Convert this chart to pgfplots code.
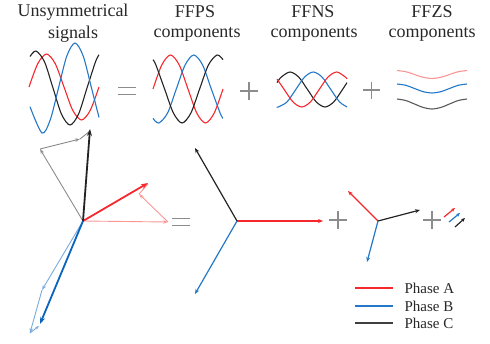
\documentclass[border=0pt]{standalone}
\usepackage{pgfplots}
\pgfplotsset{compat=1.18}
\usepackage{fontspec}
\setmainfont{Liberation Serif}
\usetikzlibrary{arrows.meta}
\definecolor{pA}{RGB}{245,40,45}
\definecolor{pB}{RGB}{35,120,200}
\definecolor{pC}{RGB}{35,35,35}
\definecolor{lA}{RGB}{250,150,150}
\definecolor{lB}{RGB}{120,170,222}
\definecolor{lC}{RGB}{140,140,140}
\definecolor{dB}{RGB}{10,100,190}
\definecolor{txt}{RGB}{40,40,40}
\begin{document}
\begin{tikzpicture}
\begin{axis}[width=490pt,height=343pt,scale only axis,
  xmin=0,xmax=490,ymin=0,ymax=343,y dir=reverse,hide axis,clip=false]
% ---------- titles
\node[font=\fontsize{18}{20}\selectfont,text=txt] at (73,12) {Unsymmetrical};
\node[font=\fontsize{18}{20}\selectfont,text=txt] at (73,34) {signals};
\node[font=\fontsize{18}{20}\selectfont,text=txt] at (195,12) {FFPS};
\node[font=\fontsize{18}{20}\selectfont,text=txt] at (197,34) {components};
\node[font=\fontsize{18}{20}\selectfont,text=txt] at (313,12) {FFNS};
\node[font=\fontsize{18}{20}\selectfont,text=txt] at (314,34) {components};
\node[font=\fontsize{18}{20}\selectfont,text=txt] at (432,12) {FFZS};
\node[font=\fontsize{18}{20}\selectfont,text=txt] at (432,34) {components};
% ---------- unsymmetrical waveforms
\addplot[smooth,pA,line width=1.1pt] coordinates {(29,87) (37.75,63.7) (46.5,54) (55.25,63.7) (64,87) (72.75,110.3) (81.5,120) (90.25,110.3) (99,87)};
\addplot[smooth,pC,line width=1.1pt] coordinates {(30,56.5) (36,51) (44.5,61.8) (53,88) (61.5,114.2) (70,125) (78.5,114.2) (87,88) (95.5,61.8) (99,54.8)};
\addplot[smooth,pB,line width=1.1pt] coordinates {(30,106.7) (42,133) (50.25,119.8) (58.5,88) (66.75,56.2) (75,43) (83.25,56.2) (91.5,88) (99,117.4)};
% ---------- FFPS waveforms
\addplot[smooth,pA,line width=1.1pt] coordinates {(153,89) (161.75,65) (170.5,55) (179.25,65) (188,89) (196.75,113) (205.5,123) (214.25,113) (223,89)};
\addplot[smooth,pB,line width=1.1pt] coordinates {(153,118.4) (158.8,123) (167.6,113) (176.3,89) (185.1,65) (193.8,55) (202.6,65) (211.3,89) (220.1,113) (223,118.4)};
\addplot[smooth,pC,line width=1.1pt] coordinates {(153,59.7) (155.9,65) (164.6,89) (173.4,113) (182.1,123) (190.9,113) (199.6,89) (208.4,65) (217.1,55) (223,59.7)};
% ---------- FFNS waveforms
\addplot[smooth,pC,line width=1.1pt] coordinates {(277,82.6) (281.25,77.1) (290,72) (298.75,77.1) (307.5,89.5) (316.25,101.9) (325,107) (333.75,101.9) (342.5,89.5) (347,82.6)};
\addplot[smooth,pB,line width=1.1pt] coordinates {(277,106.9) (278.3,107) (287.05,101.9) (295.8,89.5) (304.55,77.1) (313.3,72) (322.05,77.1) (330.8,89.5) (339.55,101.9) (347,106.9)};
\addplot[smooth,pA,line width=1.1pt] coordinates {(277,79) (284.2,89.5) (292.95,101.9) (301.7,107) (310.45,101.9) (319.2,89.5) (327.95,77.1) (336.7,72) (345.45,77.1) (347,79)};
% ---------- FFZS waveforms
\addplot[smooth,lA,line width=1.1pt] coordinates {(397,70.5) (405.75,71.7) (414.5,74.5) (423.25,77.3) (432,78.5) (440.75,77.3) (449.5,74.5) (458.25,71.7) (467,70.5)};
\addplot[smooth,pB,line width=1.1pt] coordinates {(397,84) (405.75,85.3) (414.5,88.5) (423.25,91.7) (432,93) (440.75,91.7) (449.5,88.5) (458.25,85.3) (467,84)};
\addplot[smooth,black!65,line width=1.1pt] coordinates {(397,99) (405.75,100.5) (414.5,104) (423.25,107.5) (432,109) (440.75,107.5) (449.5,104) (458.25,100.5) (467,99)};
% ---------- operators top
\addplot[lC,line width=1.3pt] coordinates {(118,87.7) (136,87.7)};
\addplot[lC,line width=1.3pt] coordinates {(118,94.3) (136,94.3)};
\addplot[lC,line width=1.1pt] coordinates {(240,91) (258,91)};
\addplot[lC,line width=1.1pt] coordinates {(249,82) (249,100)};
\addplot[lC,line width=1.1pt] coordinates {(363,90) (380,90)};
\addplot[lC,line width=1.1pt] coordinates {(371.5,81.5) (371.5,98.5)};
% ---------- operators bottom
\addplot[lC,line width=1.3pt] coordinates {(172,218.7) (190,218.7)};
\addplot[lC,line width=1.3pt] coordinates {(172,225.3) (190,225.3)};
\addplot[lC,line width=1.1pt] coordinates {(329,220) (347,220)};
\addplot[lC,line width=1.1pt] coordinates {(338,211) (338,229)};
\addplot[lC,line width=1.1pt] coordinates {(423,220) (441,220)};
\addplot[lC,line width=1.1pt] coordinates {(432,211) (432,229)};
% ---------- unsymmetrical phasors: components (thin)
\addplot[lA,line width=0.9pt,-{Stealth[length=5pt,width=3.5pt]}] coordinates {(83,221) (168,222)};
\addplot[lA,line width=0.9pt,-{Stealth[length=5pt,width=3.5pt]}] coordinates {(168,222) (139,194)};
\addplot[lA,line width=0.9pt] coordinates {(139,194) (148,184)};
\addplot[lC,line width=0.9pt,-{Stealth[length=5pt,width=3.5pt]}] coordinates {(83,221) (40,149)};
\addplot[lC,line width=0.9pt,-{Stealth[length=5pt,width=3.5pt]}] coordinates {(40,149) (80,139)};
\addplot[lC,line width=0.9pt] coordinates {(80,139) (90,131)};
\addplot[lB,line width=0.9pt,-{Stealth[length=5pt,width=3.5pt]}] coordinates {(83,221) (42,290)};
\addplot[lB,line width=0.9pt,-{Stealth[length=5pt,width=3.5pt]}] coordinates {(42,290) (30,333)};
\addplot[lB,line width=0.9pt,-{Stealth[length=4pt,width=3pt]}] coordinates {(30,333) (39,326)};
% ---------- unsymmetrical phasors: resultants (bold)
\addplot[pA,line width=1.8pt,-{Stealth[length=7pt,width=5pt]}] coordinates {(83,221) (148,183)};
\addplot[pC,line width=1.8pt,-{Stealth[length=7pt,width=5pt]}] coordinates {(83,221) (90,129)};
\addplot[dB,line width=1.8pt,-{Stealth[length=7pt,width=5pt]}] coordinates {(83,221) (40,324)};
% ---------- FFPS phasors
\addplot[pA,line width=1.2pt,-{Stealth[length=5pt,width=4pt]}] coordinates {(237,221) (323,221)};
\addplot[pC,line width=1.2pt,-{Stealth[length=5pt,width=4pt]}] coordinates {(237,221) (195,148)};
\addplot[pB,line width=1.2pt,-{Stealth[length=5pt,width=4pt]}] coordinates {(237,221) (195,294)};
% ---------- FFNS phasors
\addplot[pA,line width=1.2pt,-{Stealth[length=5pt,width=4pt]}] coordinates {(378,221) (348,191)};
\addplot[pC,line width=1.2pt,-{Stealth[length=5pt,width=4pt]}] coordinates {(378,221) (420,210)};
\addplot[pB,line width=1.2pt,-{Stealth[length=5pt,width=4pt]}] coordinates {(378,221) (367,262)};
% ---------- FFZS phasors
\addplot[pA,line width=1.2pt,-{Stealth[length=4pt,width=3.5pt]}] coordinates {(444,217) (455,208)};
\addplot[pB,line width=1.2pt,-{Stealth[length=4pt,width=3.5pt]}] coordinates {(449,222) (460,213)};
\addplot[pC,line width=1.2pt,-{Stealth[length=4pt,width=3.5pt]}] coordinates {(455,227) (465,218)};
% ---------- legend
\addplot[pA,line width=1.2pt] coordinates {(355,288) (393,288)};
\addplot[pB,line width=1.2pt] coordinates {(355,306) (393,306)};
\addplot[black!75,line width=1.2pt] coordinates {(355,323) (393,323)};
\node[anchor=west,font=\fontsize{15}{17}\selectfont,text=txt] at (401,288) {Phase A};
\node[anchor=west,font=\fontsize{15}{17}\selectfont,text=txt] at (401,306) {Phase B};
\node[anchor=west,font=\fontsize{15}{17}\selectfont,text=txt] at (401,323) {Phase C};
\end{axis}
\pgfresetboundingbox
\useasboundingbox (current axis.south west) rectangle (current axis.north east);
\end{tikzpicture}
\end{document}
